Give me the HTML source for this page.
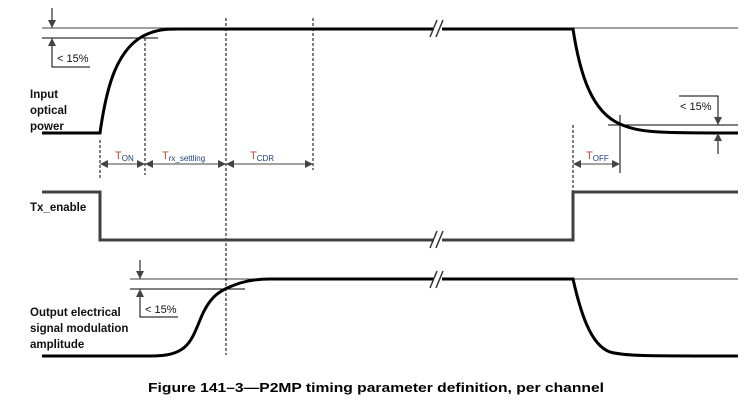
<!DOCTYPE html>
<html><head><style>
html,body{margin:0;padding:0;background:#fff;}
svg{display:block;}
.lbl{font-family:"Liberation Sans",sans-serif;font-weight:bold;font-size:11.5px;fill:#111;}
.sm{font-family:"Liberation Sans",sans-serif;font-size:11px;fill:#111;}
.t{font-family:"Liberation Sans",sans-serif;font-size:11px;}
</style></head><body>
<svg width="751" height="412" viewBox="0 0 751 412" xmlns="http://www.w3.org/2000/svg">
<defs>
<marker id="a" viewBox="0 0 10 10" refX="10" refY="5" markerWidth="10" markerHeight="8" orient="auto-start-reverse" markerUnits="userSpaceOnUse"><path d="M0,0 L10,5 L0,10 z" fill="#444"/></marker>
</defs>
<path d="M42,133 L100,133 C106,90 116,45 150,33 C160,29 170,29 180,29 L573,29 C580,75 592,112 620,124 C640,133 660,133 738,133" fill="none" stroke="#000" stroke-width="3"/>
<g stroke="#000" stroke-width="1" fill="none">
<line x1="42" y1="28" x2="738" y2="28" stroke-width="0.8"/>
<line x1="42" y1="38" x2="158" y2="38"/>
<line x1="52" y1="8" x2="52" y2="28" marker-end="url(#a)"/>
<line x1="52" y1="50" x2="52" y2="38" marker-end="url(#a)"/>
<polyline points="52,50 52,67 90,67"/>
<line x1="608" y1="125" x2="738" y2="125"/>
<polyline points="679,96 718,96 718,115"/>
<line x1="718" y1="113" x2="718" y2="125" marker-end="url(#a)"/>
<line x1="718" y1="154" x2="718" y2="133" marker-end="url(#a)"/>
<line x1="620" y1="115" x2="620" y2="173"/>
<line x1="145" y1="38" x2="145" y2="175" stroke-dasharray="3,2"/>
<line x1="100" y1="140" x2="100" y2="178" stroke-dasharray="3,2"/>
<line x1="226" y1="18" x2="226" y2="355" stroke-dasharray="3,2"/>
<line x1="313" y1="18" x2="313" y2="170" stroke-dasharray="3,2"/>
<line x1="573" y1="125" x2="573" y2="192" stroke-dasharray="3,2"/>
<line x1="130" y1="279" x2="738" y2="279" stroke-width="0.8"/>
<line x1="130" y1="289" x2="245" y2="289"/>
<line x1="140" y1="260" x2="140" y2="279" marker-end="url(#a)"/>
<line x1="140" y1="300" x2="140" y2="289" marker-end="url(#a)"/>
<polyline points="140,300 140,317 178,317"/>
</g>
<g stroke="#444" stroke-width="1">
<line x1="100" y1="164" x2="145" y2="164" marker-start="url(#a)" marker-end="url(#a)"/>
<line x1="145" y1="164" x2="226" y2="164" marker-start="url(#a)" marker-end="url(#a)"/>
<line x1="226" y1="164" x2="313" y2="164" marker-start="url(#a)" marker-end="url(#a)"/>
<line x1="573" y1="164" x2="620" y2="164" marker-start="url(#a)" marker-end="url(#a)"/>
</g>
<polyline points="42,192 100,192 100,240 573,240 573,192 738,192" fill="none" stroke="#404040" stroke-width="3"/>
<path d="M42,356 L150,356 C185,356 190,345 200,320 C210,295 220,290 240,283 C250,280 260,279 270,279 L573,279 C580,310 590,345 610,352 C625,356 640,356 738,356" fill="none" stroke="#000" stroke-width="3"/>
<g stroke="#fff" stroke-width="6"><line x1="434" y1="29" x2="442" y2="29"/><line x1="434" y1="240" x2="442" y2="240"/><line x1="434" y1="279" x2="442" y2="279"/></g>
<g stroke="#333" stroke-width="1.5">
<line x1="430" y1="37" x2="437" y2="20"/><line x1="436" y1="37" x2="443" y2="20"/>
<line x1="430" y1="248" x2="437" y2="231"/><line x1="436" y1="248" x2="443" y2="231"/>
<line x1="430" y1="288" x2="437" y2="271"/><line x1="436" y1="288" x2="443" y2="271"/>
</g>
<text class="sm" x="57" y="62">&lt; 15%</text>
<text class="sm" x="680" y="110">&lt; 15%</text>
<text class="sm" x="145" y="313">&lt; 15%</text>
<text class="lbl" x="30" y="98">Input</text>
<text class="lbl" x="30" y="114">optical</text>
<text class="lbl" x="30" y="130">power</text>
<text class="lbl" x="30" y="211">Tx_enable</text>
<text class="lbl" x="30" y="316">Output electrical</text>
<text class="lbl" x="30" y="332">signal modulation</text>
<text class="lbl" x="30" y="348">amplitude</text>
<text class="t" x="115" y="159" fill="#b5502b">T<tspan font-size="8" fill="#1f3f7f" dy="2">ON</tspan></text>
<text class="t" x="162" y="159" fill="#b5502b">T<tspan font-size="8" fill="#1f3f7f" dy="2">rx_settling</tspan></text>
<text class="t" x="250" y="159" fill="#b5502b">T<tspan font-size="8" fill="#1f3f7f" dy="2">CDR</tspan></text>
<text class="t" x="586" y="159" fill="#b5502b">T<tspan font-size="8" fill="#1f3f7f" dy="2">OFF</tspan></text>
<text x="376" y="392" text-anchor="middle" font-family="Liberation Sans, sans-serif" font-weight="bold" font-size="12.5" fill="#000" textLength="456" lengthAdjust="spacingAndGlyphs">Figure 141–3—P2MP timing parameter definition, per channel</text>
</svg>
</body></html>
